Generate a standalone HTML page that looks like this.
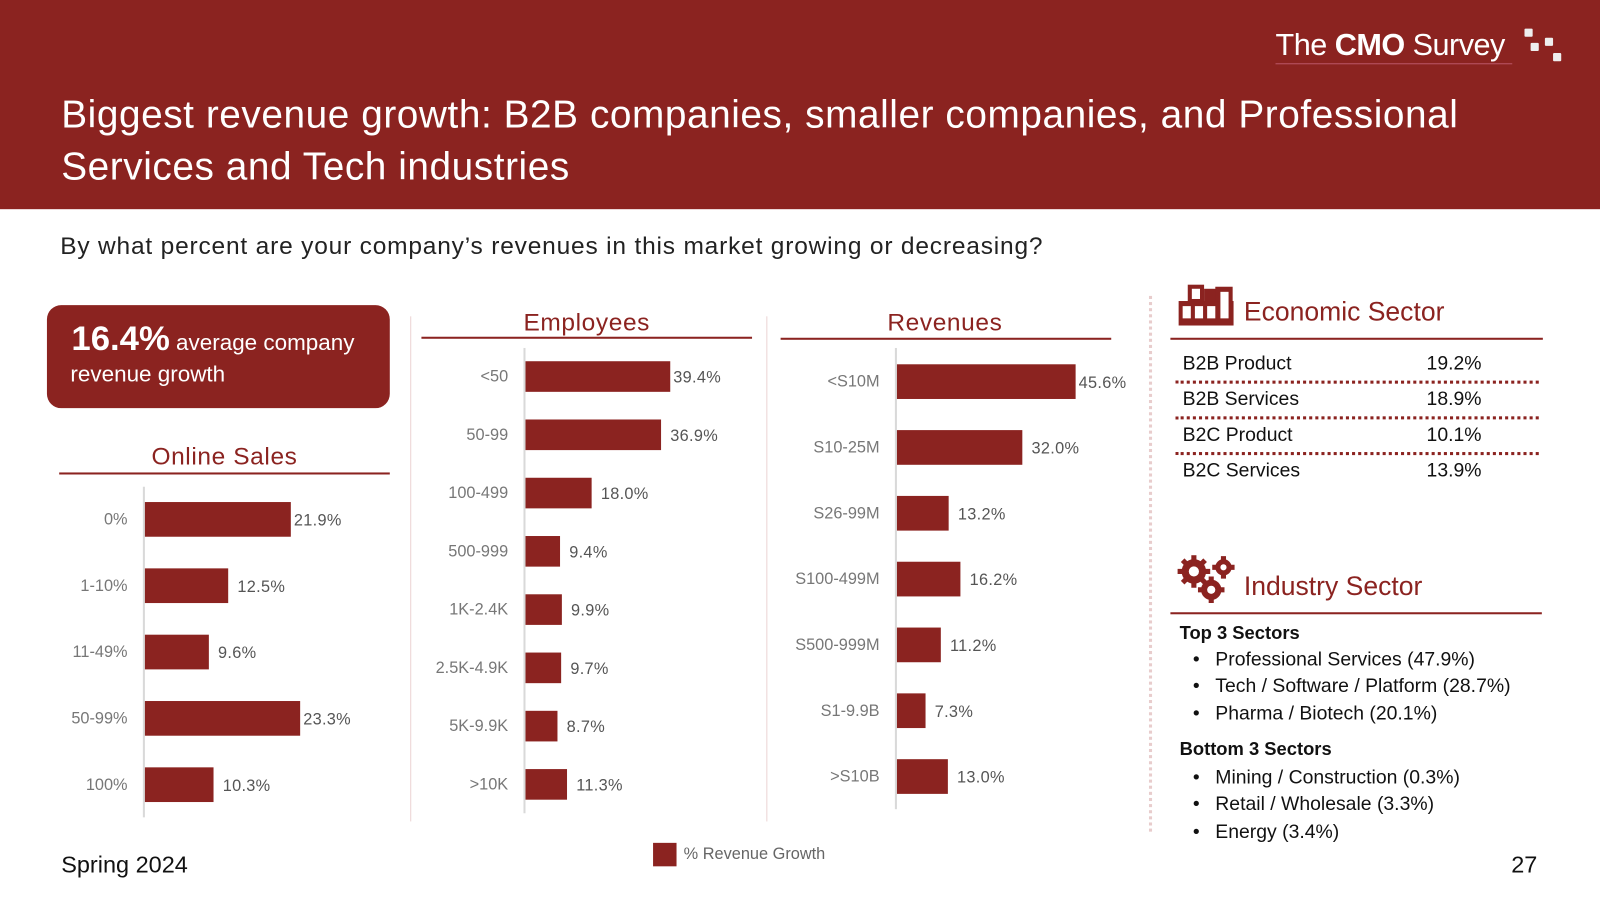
<!DOCTYPE html>
<html><head><meta charset="utf-8">
<style>
html,body{margin:0;padding:0;width:1600px;height:900px;overflow:hidden;background:#fff;font-family:"Liberation Sans",sans-serif}
#stage{position:absolute;left:0;top:0;width:1568px;height:882px;transform:scale(1.020408);transform-origin:0 0}
.abs{position:absolute}
.red{color:#8B2320}
</style></head><body>
<div id="stage">
<div class="abs" style="left:0;top:0;width:1568px;height:205px;background:#8B2320"></div>
<div class="abs" style="left:1250px;top:28px;color:#fff;font-size:30px;letter-spacing:-0.5px"><span style="font-weight:300">The </span><b>CMO</b><span> Survey</span></div>
<div class="abs" style="left:1250px;top:62px;width:232px;height:1px;background:#b56"></div>
<div class="abs" style="left:1494px;top:28px;width:8px;height:8px;background:#eee;border-radius:1px"></div>
<div class="abs" style="left:1500px;top:42px;width:8px;height:8px;background:#eee;border-radius:1px"></div>
<div class="abs" style="left:1514px;top:37px;width:8px;height:8px;background:#eee;border-radius:1px"></div>
<div class="abs" style="left:1522px;top:52px;width:8px;height:8px;background:#eee;border-radius:1px"></div>
<div class="abs" style="left:60px;top:88px;width:1460px;color:#fff;font-size:38px;line-height:51px;letter-spacing:0.55px">Biggest revenue growth: B2B companies, smaller companies, and Professional Services and Tech industries</div>
<div class="abs" style="left:59px;top:228px;font-size:24px;color:#222;letter-spacing:0.8px">By what percent are your company’s revenues in this market growing or decreasing?</div>

<div class="abs" style="left:46px;top:299px;width:336px;height:101px;background:#8B2320;border-radius:14px;color:#fff">
<div class="abs" style="left:24px;top:14px;font-size:22px;white-space:nowrap"><b style="font-size:34px">16.4%</b> average company</div>
<div class="abs" style="left:23px;top:55px;font-size:22px">revenue growth</div>
</div>

<div class="abs" style="left:402px;top:310px;width:1px;height:495px;background:#ecd3d3"></div>
<div class="abs" style="left:751px;top:310px;width:1px;height:495px;background:#ecd3d3"></div>
<div class="abs" style="left:1126px;top:290px;height:525px;border-left:3px dotted #e8cccc"></div>

<svg id="charts" class="abs" style="left:0;top:0" width="1568" height="882"></svg>

<svg class="abs" style="left:1155px;top:278px" width="54" height="42">
<rect x="9" y="1" width="16" height="40" fill="#8B2320"/><rect x="25" y="5" width="12" height="36" fill="#8B2320"/><rect x="36" y="3" width="17" height="38" fill="#8B2320"/><rect x="0" y="17" width="54" height="24" fill="#8B2320"/>
<rect x="4" y="22" width="8" height="12" fill="#fff"/><rect x="16" y="22" width="8" height="12" fill="#fff"/><rect x="28" y="22" width="8" height="12" fill="#fff"/><rect x="41" y="8" width="8" height="26" fill="#fff"/><rect x="13" y="5" width="8" height="10" fill="#fff"/>
</svg>
<div class="abs red" style="left:1219px;top:290px;font-size:26px">Economic Sector</div>
<div class="abs" style="left:1147px;top:331px;width:365px;height:2px;background:#8B2320"></div>
<div id="econ"></div>

<svg class="abs" style="left:1154px;top:544px" width="56" height="48">
<g fill="#8B2320"><circle cx="16" cy="16" r="12"/><circle cx="33" cy="34" r="10"/><circle cx="45" cy="12" r="8"/></g>
<g stroke="#8B2320" stroke-width="5"><line x1="16" y1="0" x2="16" y2="32"/><line x1="0" y1="16" x2="32" y2="16"/><line x1="5" y1="5" x2="27" y2="27"/><line x1="27" y1="5" x2="5" y2="27"/><line x1="33" y1="21" x2="33" y2="47"/><line x1="20" y1="34" x2="46" y2="34"/><line x1="45" y1="1" x2="45" y2="23"/><line x1="34" y1="12" x2="56" y2="12"/></g>
<g fill="#fff"><circle cx="16" cy="16" r="5"/><circle cx="33" cy="34" r="4"/><circle cx="45" cy="12" r="3"/></g>
</svg>
<div class="abs red" style="left:1219px;top:559px;font-size:26px">Industry Sector</div>
<div class="abs" style="left:1147px;top:600px;width:364px;height:2px;background:#8B2320"></div>
<div class="abs" style="left:1156px;top:607px;font-size:19px;color:#111;line-height:26.5px">
<div style="font-weight:bold;font-size:18px">Top 3 Sectors</div>
<div style="padding-left:35px;position:relative"><span style="position:absolute;left:13px">•</span>Professional Services (47.9%)</div>
<div style="padding-left:35px;position:relative"><span style="position:absolute;left:13px">•</span>Tech / Software / Platform (28.7%)</div>
<div style="padding-left:35px;position:relative"><span style="position:absolute;left:13px">•</span>Pharma / Biotech (20.1%)</div>
<div style="font-weight:bold;font-size:18px;margin-top:8px">Bottom 3 Sectors</div>
<div style="padding-left:35px;position:relative;margin-top:2px"><span style="position:absolute;left:13px">•</span>Mining / Construction (0.3%)</div>
<div style="padding-left:35px;position:relative"><span style="position:absolute;left:13px">•</span>Retail / Wholesale (3.3%)</div>
<div style="padding-left:35px;position:relative"><span style="position:absolute;left:13px">•</span>Energy (3.4%)</div>
</div>

<div class="abs" style="left:640px;top:826px;width:23px;height:23px;background:#8B2320"></div>
<div class="abs" style="left:670px;top:829px;font-size:16px;color:#666">% Revenue Growth</div>
<div class="abs" style="left:60px;top:834px;font-size:23px;color:#111">Spring 2024</div>
<div class="abs" style="left:1481px;top:834px;font-size:23px;color:#111">27</div>
</div>

<script>
const onlineCats=["0%","1-10%","11-49%","50-99%","100%"];
const onlineVals=[21.9,12.5,9.6,23.3,10.3];
const empCats=["<50","50-99","100-499","500-999","1K-2.4K","2.5K-4.9K","5K-9.9K",">10K"];
const empVals=[39.4,36.9,18.0,9.4,9.9,9.7,8.7,11.3];
const revCats=["<S10M","S10-25M","S26-99M","S100-499M","S500-999M","S1-9.9B",">S10B"];
const revVals=[45.6,32.0,13.2,16.2,11.2,7.3,13.0];
const econCats=["B2B Product","B2B Services","B2C Product","B2C Services"];
const econVals=[19.2,18.9,10.1,13.9];

const NS="http://www.w3.org/2000/svg";
const svg=document.getElementById('charts');
function mk(tag,attrs){const e=document.createElementNS(NS,tag);for(const k in attrs)e.setAttribute(k,attrs[k]);svg.appendChild(e);return e;}
function chart(name,title,tcx,tcy,ulx1,ulx2,uly,axisX,axTop,axBot,firstC,step,barH,ppp,cats,vals){
  const t=mk('text',{x:tcx,y:tcy,'text-anchor':'middle','font-size':24,fill:'#8B2320','font-family':'Liberation Sans','letter-spacing':'0.6'});
  t.textContent=title;
  
  
  const u=mk('rect',{x:ulx1,y:uly,width:ulx2-ulx1,height:2,fill:'#8B2320'});
  
  
  const a=mk('rect',{x:axisX-1,y:axTop,width:2,height:axBot-axTop,fill:'#d9d9d9'});
  
  
  cats.forEach((c,i)=>{
    const cy=firstC+i*step, w=vals[i]*ppp;
    const b=mk('rect',{x:axisX+1,y:cy-barH/2,width:w,height:barH,fill:'#8B2320'});
    
    
    const l=mk('text',{x:axisX-16,y:cy+5,'text-anchor':'end','font-size':16,fill:'#777','font-family':'Liberation Sans'});
    l.textContent=c;
    
    
    const v=mk('text',{x:axisX+1+w+(w>140?3:9),y:cy+6,'font-size':16,fill:'#555','font-family':'Liberation Sans','letter-spacing':'0.3'});
    v.textContent=vals[i].toFixed(1)+'%';
    
    
  });
}
chart('online-sales','Online Sales',220,455,58,382,463,141,477,801,509,65,34,6.53,onlineCats,onlineVals);
chart('employees','Employees',575,324,413,737,330,514,341,797,369,57.1,30,3.6,empCats,empVals);
chart('revenues','Revenues',926,324,765,1089,331,878,341,793,374,64.5,34,3.84,revCats,revVals);

const econ=document.getElementById('econ');
econCats.forEach((c,i)=>{
  const y=346+i*35;
  const r=document.createElement('div');
  r.className='abs';
  r.style.cssText=`left:1159px;top:${y}px;font-size:19px;color:#111`;
  r.textContent=c;
  
  
  econ.appendChild(r);
  const v=document.createElement('div');
  v.className='abs';
  v.style.cssText=`left:1398px;top:${y}px;font-size:19px;color:#111`;
  v.textContent=econVals[i].toFixed(1)+'%';
  
  
  econ.appendChild(v);
  if(i<econCats.length-1){
    const d=document.createElement('div');
    d.className='abs';
    d.style.cssText=`left:1152px;top:${y+27}px;width:356px;border-top:3px dotted #8B2320`;
    
    
    econ.appendChild(d);
  }
});
</script>
</body></html>
